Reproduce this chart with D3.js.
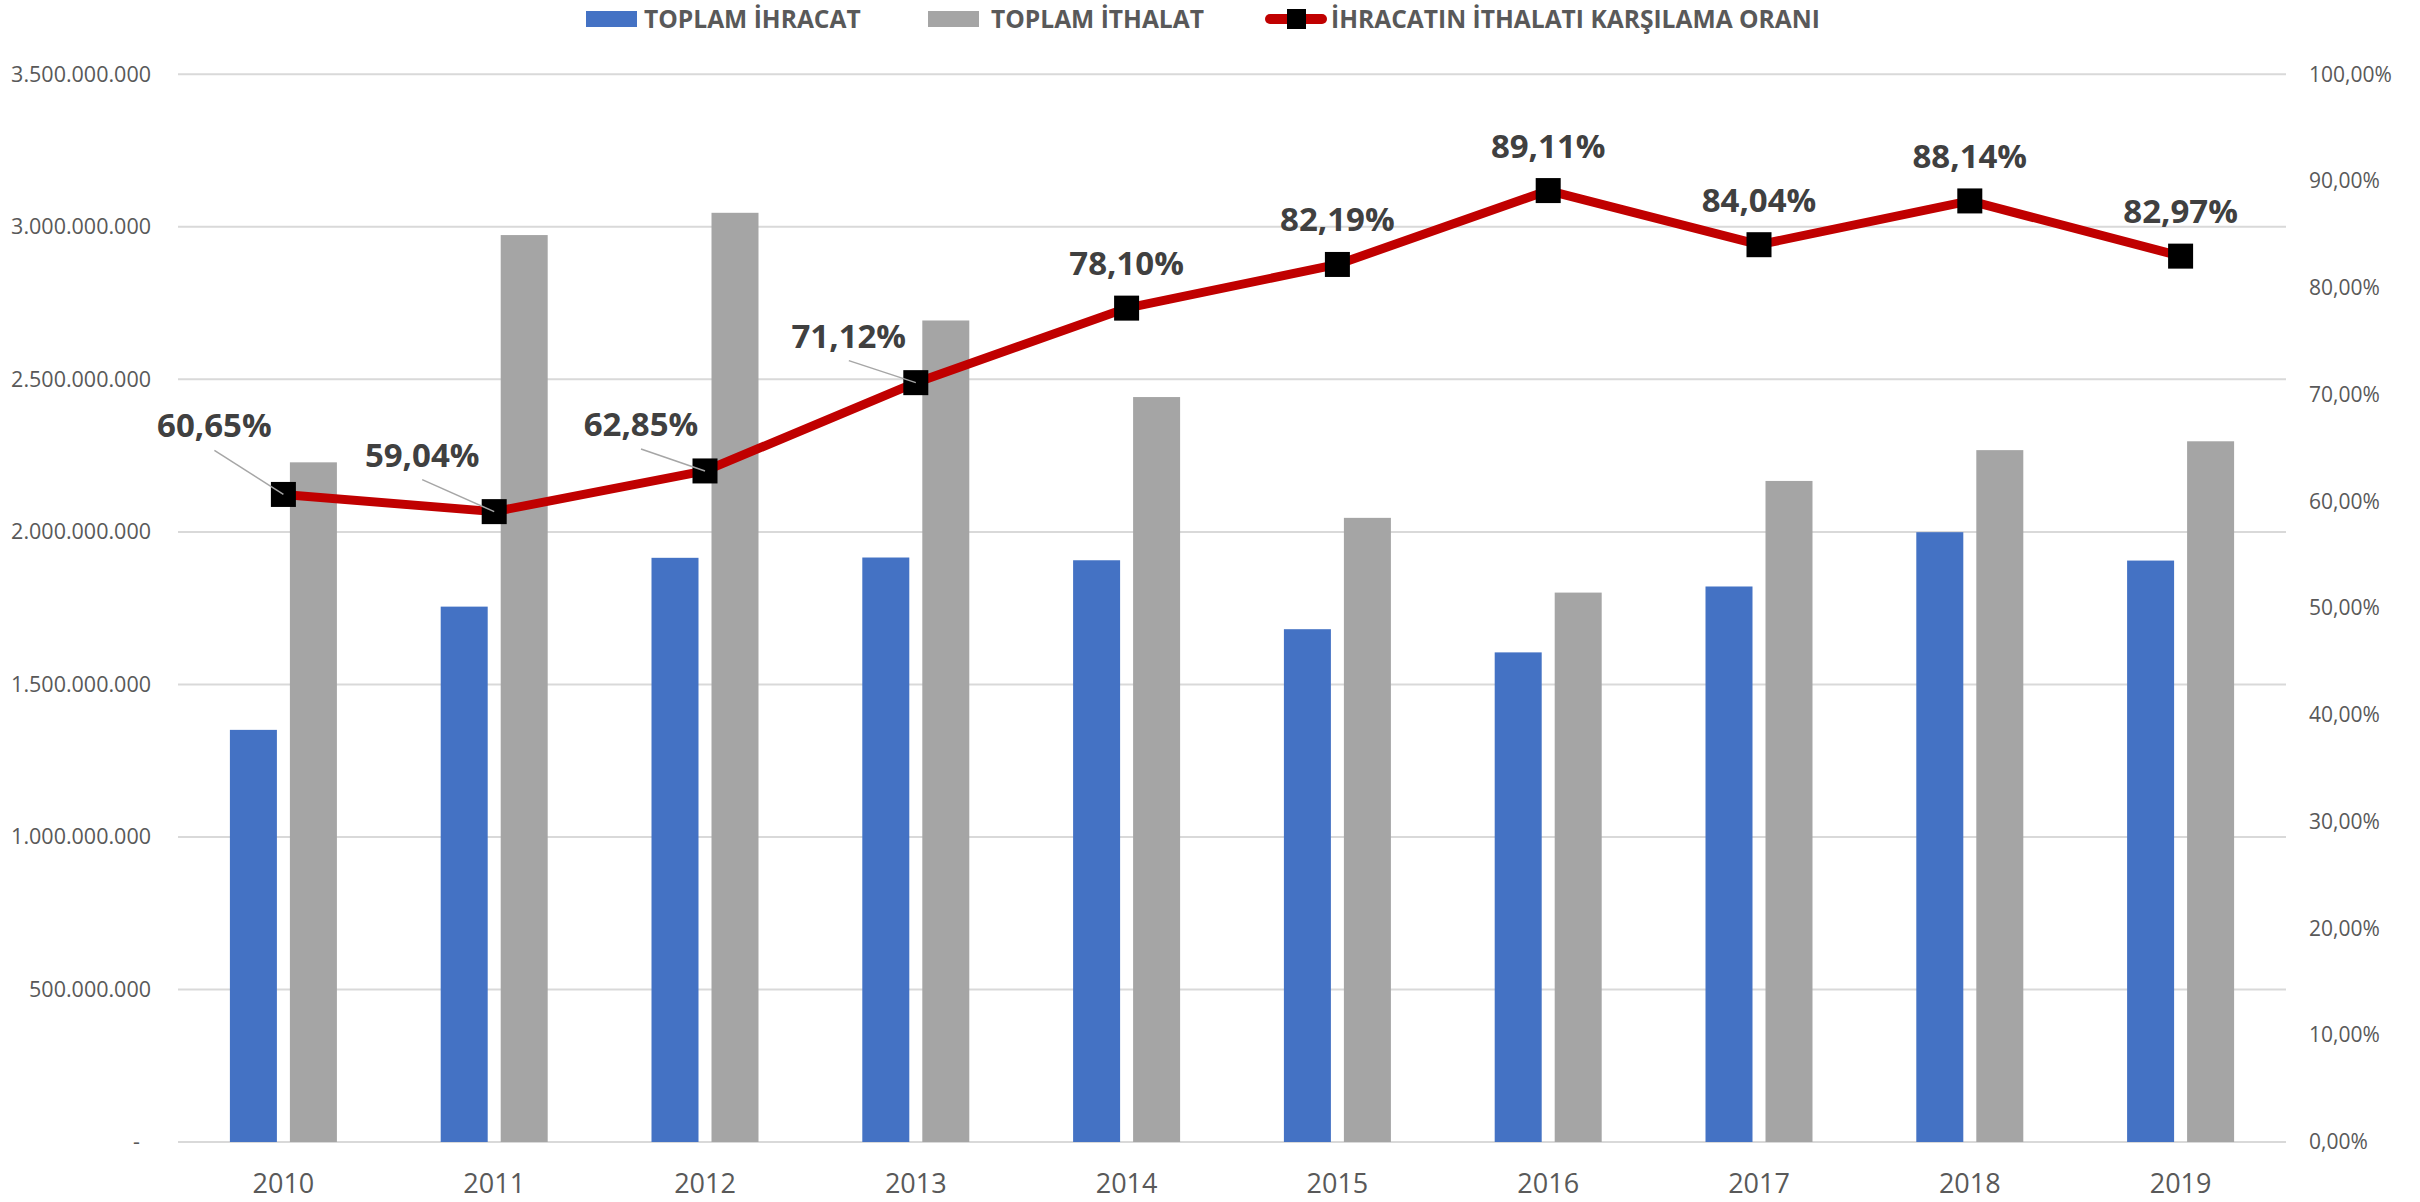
<!DOCTYPE html>
<html>
<head>
<meta charset="utf-8">
<script src="https://cdn.jsdelivr.net/npm/d3@7"></script>
<style>
    body { margin: 0; background: #fff; }
    text { font-family: "Open Sans", "Noto Sans", sans-serif; }
</style>
</head>
<body>
<script>
//chart values
var years = ["2010", "2011", "2012", "2013", "2014", "2015", "2016", "2017", "2018", "2019"];
var ihracat = [1351e6, 1755e6, 1915e6, 1916e6, 1907e6, 1681e6, 1605e6, 1821e6, 1999e6, 1906e6];
var ithalat = [2228e6, 2973e6, 3046e6, 2693e6, 2442e6, 2046e6, 1801e6, 2167e6, 2268e6, 2297e6];
var oran = [0.6065, 0.5904, 0.6285, 0.7112, 0.7810, 0.8219, 0.8911, 0.8404, 0.8814, 0.8297];
var leftTicks = [0, 5e8, 1e9, 1.5e9, 2e9, 2.5e9, 3e9, 3.5e9];
var rightTicks = [0, 0.1, 0.2, 0.3, 0.4, 0.5, 0.6, 0.7, 0.8, 0.9, 1];
var seriesNames = ["TOPLAM İHRACAT", "TOPLAM İTHALAT", "İHRACATIN İTHALATI KARŞILAMA ORANI"];

window.onload = drawChart();

function drawChart() {
    var width = 2420,
        height = 1202;

    var svg = d3.select("body")
        .append("svg")
        .attr("width", width)
        .attr("height", height);

    //turkish number formats
    var tr = d3.formatLocale({decimal: ",", thousands: ".", grouping: [3], currency: ["", ""]});
    var fmtNum = tr.format(",.0f"),
        fmtPct = tr.format(".2%");

    //scales
    var x = d3.scaleBand().domain(years).range([178, 2286]);
    var xSub = d3.scaleBand().domain(["ihracat", "ithalat"]).range([-53.5, 53.5]).paddingInner(0.2167);
    var yLeft = d3.scaleLinear().domain([0, 3.5e9]).range([1142, 74.3]);
    var yRight = d3.scaleLinear().domain([0, 1]).range([1142, 74.3]);

    //gridlines
    svg.selectAll(".grid")
        .data(leftTicks)
        .enter()
        .append("line")
        .attr("x1", 178)
        .attr("x2", 2286)
        .attr("y1", function(d) { return yLeft(d); })
        .attr("y2", function(d) { return yLeft(d); })
        .attr("stroke", "#d9d9d9")
        .attr("stroke-width", 2);

    //left axis
    var leftAxis = svg.append("g")
        .attr("transform", "translate(151,0)")
        .call(d3.axisLeft(yLeft).tickValues(leftTicks).tickSize(0).tickPadding(0)
            .tickFormat(function(d) { return d === 0 ? "-" : fmtNum(d); }));
    leftAxis.select(".domain").remove();
    leftAxis.selectAll("text")
        .attr("fill", "#595959")
        .style("font-size", "21.5px")
        .style("font-family", "'Open Sans', sans-serif")
        .attr("x", function(d) { return d === 0 ? -11 : 0; });

    //right axis
    var rightAxis = svg.append("g")
        .attr("transform", "translate(2309,0)")
        .call(d3.axisRight(yRight).tickValues(rightTicks).tickSize(0).tickPadding(0)
            .tickFormat(fmtPct));
    rightAxis.select(".domain").remove();
    rightAxis.selectAll("text")
        .attr("fill", "#595959")
        .style("font-size", "21px")
        .style("font-family", "'Open Sans', sans-serif");

    //bottom axis
    var bottomAxis = svg.append("g")
        .attr("transform", "translate(0,1142)")
        .call(d3.axisBottom(x).tickSize(0).tickPadding(32));
    bottomAxis.select(".domain").remove();
    bottomAxis.selectAll("text")
        .attr("fill", "#595959")
        .style("font-size", "27px")
        .style("font-family", "'Open Sans', sans-serif");

    //bars
    function center(i) { return x(years[i]) + x.bandwidth() / 2; }

    svg.selectAll(".barIhracat")
        .data(ihracat)
        .enter()
        .append("rect")
        .attr("x", function(d, i) { return center(i) + xSub("ihracat"); })
        .attr("y", function(d) { return yLeft(d); })
        .attr("width", xSub.bandwidth())
        .attr("height", function(d) { return yLeft(0) - yLeft(d); })
        .attr("fill", "#4472C4");

    svg.selectAll(".barIthalat")
        .data(ithalat)
        .enter()
        .append("rect")
        .attr("x", function(d, i) { return center(i) + xSub("ithalat"); })
        .attr("y", function(d) { return yLeft(d); })
        .attr("width", xSub.bandwidth())
        .attr("height", function(d) { return yLeft(0) - yLeft(d); })
        .attr("fill", "#A5A5A5");

    //ratio line
    var line = d3.line()
        .x(function(d, i) { return center(i); })
        .y(function(d) { return yRight(d); });

    svg.append("path")
        .datum(oran)
        .attr("d", line)
        .attr("fill", "none")
        .attr("stroke", "#C00000")
        .attr("stroke-width", 9)
        .attr("stroke-linejoin", "round");

    svg.selectAll(".marker")
        .data(oran)
        .enter()
        .append("rect")
        .attr("x", function(d, i) { return center(i) - 12.5; })
        .attr("y", function(d) { return yRight(d) - 12.5; })
        .attr("width", 25)
        .attr("height", 25)
        .attr("fill", "#000");

    //label offsets from marker (first four were dragged up-left, with leader lines)
    var labelDx = [-69, -72, -64, -67, 0, 0, 0, 0, 0, 0],
        labelDy = [-57, -45, -35, -35, -33, -33, -33, -33, -33, -33];

    svg.selectAll(".leader")
        .data(oran.filter(function(d, i) { return labelDx[i] !== 0; }))
        .enter()
        .append("line")
        .attr("x1", function(d, i) { return center(i) + labelDx[i]; })
        .attr("y1", function(d, i) { return yRight(d) + labelDy[i] + 13; })
        .attr("x2", function(d, i) { return center(i); })
        .attr("y2", function(d) { return yRight(d); })
        .attr("stroke", "#a6a6a6")
        .attr("stroke-width", 1.5);

    svg.selectAll(".dataLabel")
        .data(oran)
        .enter()
        .append("text")
        .attr("x", function(d, i) { return center(i) + labelDx[i]; })
        .attr("y", function(d, i) { return yRight(d) + labelDy[i]; })
        .attr("text-anchor", "middle")
        .attr("fill", "#404040")
        .style("font-size", "33px")
        .style("font-weight", "bold")
        .text(function(d) { return fmtPct(d); });

    //legend
    var legend = svg.append("g");
    legend.append("rect").attr("x", 586).attr("y", 11).attr("width", 51).attr("height", 16).attr("fill", "#4472C4");
    legend.append("rect").attr("x", 928).attr("y", 11).attr("width", 51).attr("height", 16).attr("fill", "#A5A5A5");
    legend.append("line")
        .attr("x1", 1270).attr("x2", 1322).attr("y1", 19).attr("y2", 19)
        .attr("stroke", "#C00000").attr("stroke-width", 10).attr("stroke-linecap", "round");
    legend.append("rect").attr("x", 1287).attr("y", 9).attr("width", 19).attr("height", 20).attr("fill", "#000");

    var legendX = [644, 991, 1331];
    legend.selectAll(".legendText")
        .data(seriesNames)
        .enter()
        .append("text")
        .attr("x", function(d, i) { return legendX[i]; })
        .attr("y", 28)
        .attr("fill", "#595959")
        .style("font-size", "24.6px")
        .style("font-weight", "bold")
        .text(function(d) { return d; });
};
</script>
</body>
</html>
